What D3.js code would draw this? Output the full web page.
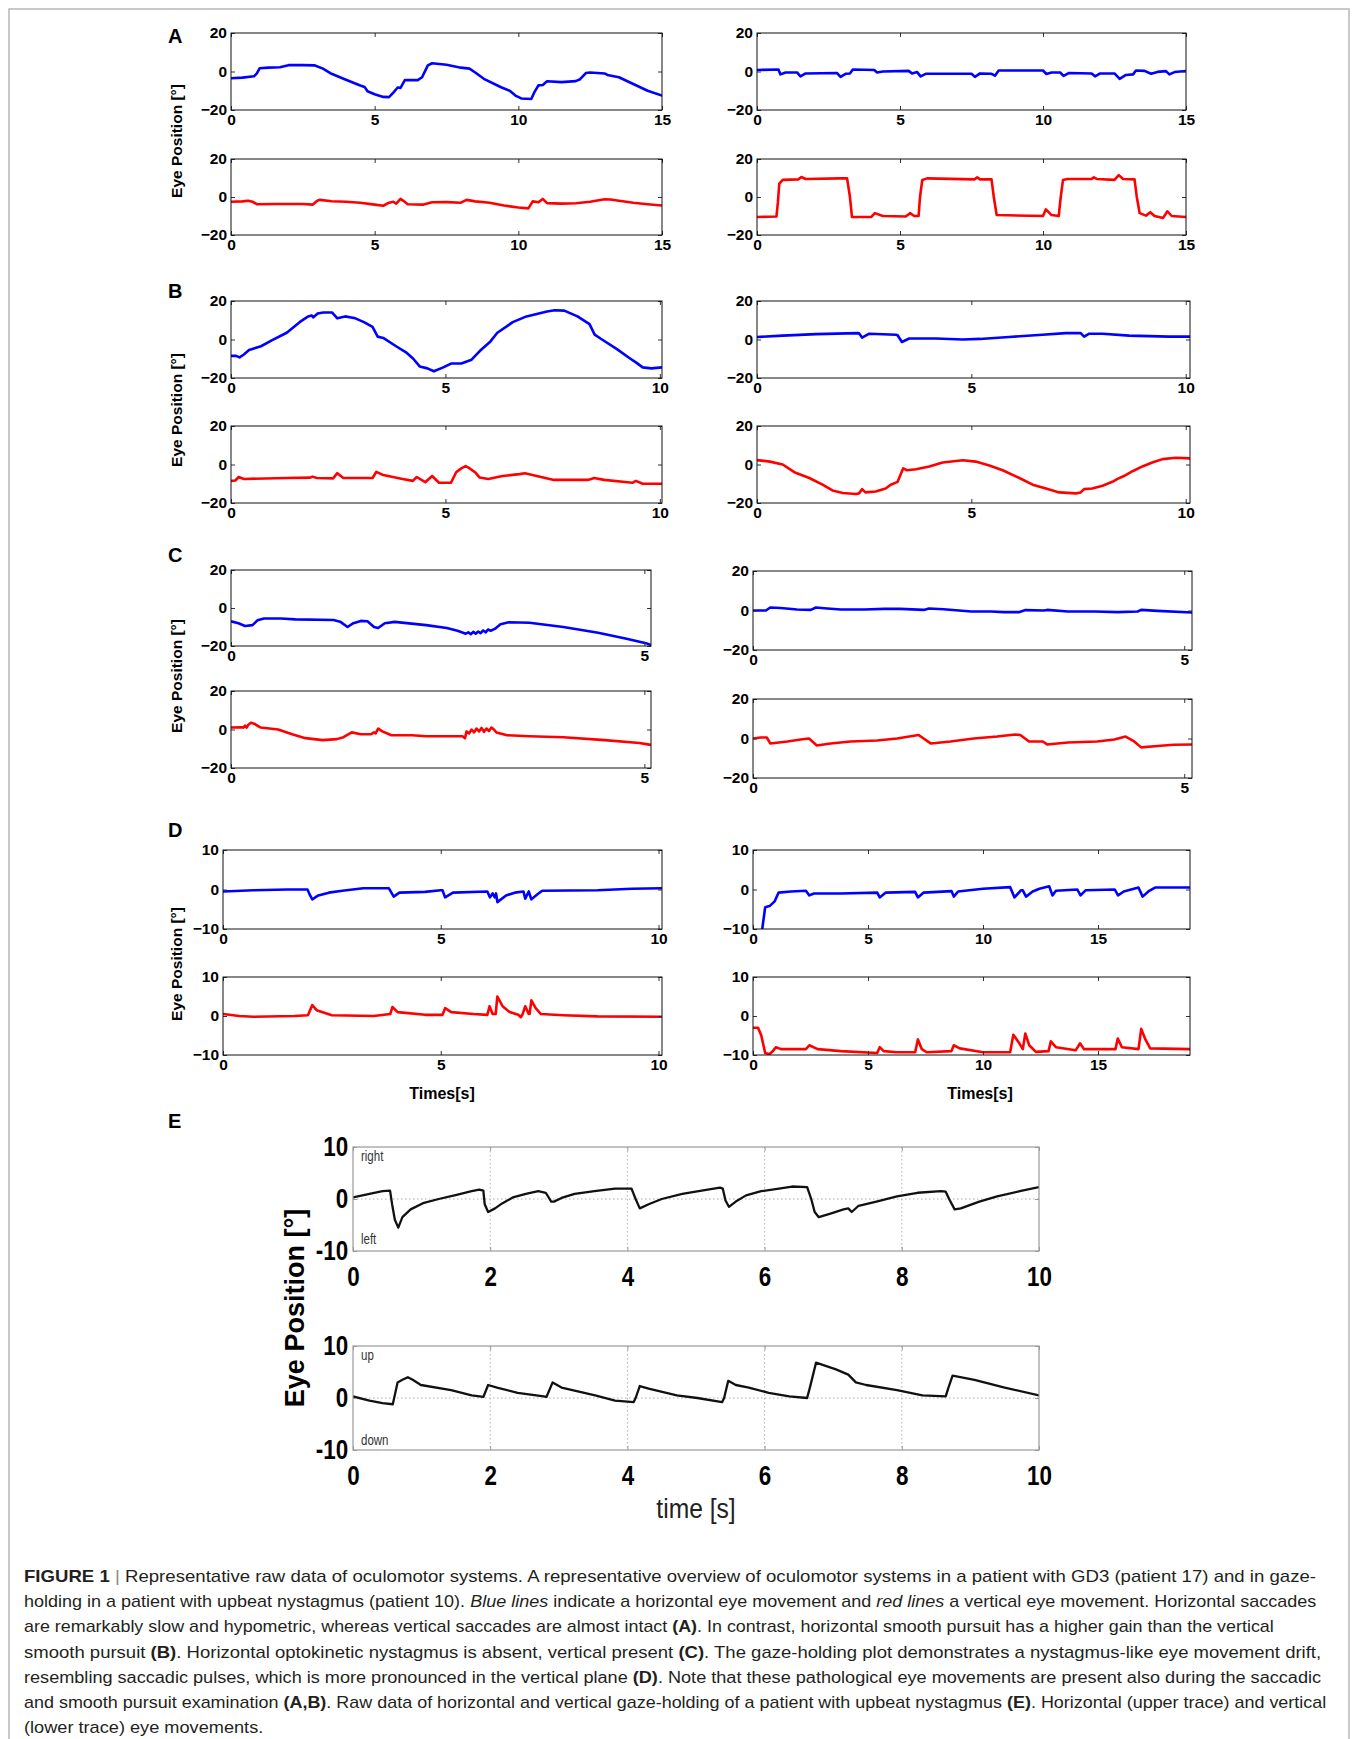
<!DOCTYPE html>
<html><head><meta charset="utf-8">
<script src="https://cdn.jsdelivr.net/npm/d3@7"></script>
<style>body{margin:0;background:#fff}svg{display:block}</style>
</head><body>
<svg id="fig" width="1358" height="1739"></svg>
<script>
// ---------------- DATA (time [s], eye position [deg]) ----------------
const A_left_h = [[0,-3.5],[0.4,-3.2],[0.8,-2.5],[0.9,-1],[1.0,1.7],[1.3,2],[1.7,2.2],[2.0,3.3],[2.5,3.3],[2.9,3.2],[3.2,1.5],[3.5,-1.2],[4.0,-4.3],[4.5,-7.3],[4.65,-8],[4.75,-10.3],[5.0,-11.8],[5.3,-13.2],[5.5,-13.3],[5.65,-11],[5.8,-8.3],[5.9,-8.5],[6.05,-4.5],[6.5,-4.5],[6.65,-3],[6.85,3.2],[7.0,4.3],[7.5,3.5],[8.0,2],[8.3,1.5],[8.5,-0.5],[8.8,-3.8],[9.4,-8.2],[9.7,-10],[9.9,-12.5],[10.1,-14],[10.45,-14.3],[10.55,-11],[10.7,-7.2],[10.85,-7],[11.0,-5.1],[11.5,-5.5],[12.0,-5],[12.15,-4],[12.35,-0.8],[12.5,-0.5],[13.0,-1],[13.1,-1.8],[13.5,-3],[14.0,-6.5],[14.5,-10],[15.0,-12.5]];
const A_left_v = [[0,-2.5],[0.4,-2.3],[0.6,-2],[0.75,-2.5],[0.9,-3.8],[1.5,-3.7],[2.5,-3.7],[2.85,-4],[3.0,-2],[3.1,-1.5],[3.5,-2.2],[4.0,-2.5],[4.5,-3],[5.0,-4],[5.3,-4.6],[5.5,-3],[5.65,-2.5],[5.75,-3.5],[5.9,-1],[6.0,-2],[6.15,-3.8],[6.7,-4],[7.0,-2.8],[7.5,-2.7],[8.0,-3],[8.2,-1.5],[8.5,-2.3],[9.0,-3],[9.5,-4.5],[10.0,-5.5],[10.35,-6],[10.5,-2.3],[10.7,-2.8],[10.85,-1],[11.0,-3.2],[11.5,-3.5],[12.0,-3.3],[12.5,-2.5],[13.0,-1.2],[13.2,-1.3],[13.5,-2],[14.0,-3],[14.5,-3.8],[15.0,-4.5]];
const A_right_h = [[0,0.8],[0.75,1],[0.82,-1.5],[1.0,-0.5],[1.4,-0.5],[1.52,-2.5],[1.7,-1],[2.8,-0.8],[2.92,-2.8],[3.1,-1.2],[3.25,-1],[3.35,1],[4.1,0.8],[4.2,-0.5],[4.4,0],[5.3,0.3],[5.42,-1],[5.6,-0.3],[5.72,-2.5],[5.9,-1.2],[7.5,-1.2],[7.62,-2.8],[7.8,-1],[8.2,-1.2],[8.32,-2.2],[8.45,0.5],[10.0,0.5],[10.12,-1.3],[10.3,-0.5],[10.6,-0.5],[10.72,-2.3],[10.9,-0.8],[11.7,-1],[11.82,-2.5],[12.0,-1],[12.5,-1],[12.68,-3.8],[12.9,-1.8],[13.15,-1.5],[13.25,0.5],[13.55,0.3],[13.78,-1.2],[14.0,-0.2],[14.3,0.2],[14.42,-1.5],[14.6,-0.3],[15.0,0.3]];
const A_right_v = [[0,-10.5],[0.68,-10.3],[0.73,-3],[0.78,7],[0.9,9],[1.45,9.3],[1.55,10.5],[1.7,9.5],[2.9,9.8],[3.15,9.8],[3.25,0],[3.32,-10.5],[4.0,-10.5],[4.12,-8.5],[4.4,-10],[5.2,-10.3],[5.35,-8.5],[5.5,-10],[5.65,-10],[5.7,0],[5.78,9],[5.95,9.8],[7.6,9.3],[7.7,10.3],[7.8,9.3],[8.2,9.3],[8.28,0],[8.38,-9.5],[10.0,-10],[10.1,-6.5],[10.3,-9.5],[10.55,-10],[10.62,0],[10.7,9],[10.85,9.5],[11.7,9.5],[11.78,10.3],[11.88,9.5],[12.5,9],[12.65,11.5],[12.8,9.5],[13.2,9.3],[13.28,0],[13.38,-8.5],[13.6,-9.8],[13.75,-8],[13.9,-10],[14.2,-11],[14.35,-7.5],[14.5,-10],[15.0,-10.5]];
const B_left_h = [[0,-8.5],[0.12,-8.5],[0.2,-9.3],[0.3,-7.8],[0.42,-5.5],[0.7,-3.5],[0.95,-0.5],[1.3,3.5],[1.6,9],[1.8,12],[1.88,12.5],[1.92,11.5],[2.02,13.5],[2.15,14],[2.36,14],[2.48,11],[2.66,12],[2.9,11],[3.1,9],[3.3,6.5],[3.42,1.5],[3.55,0.8],[3.85,-3.5],[4.1,-7],[4.25,-10],[4.4,-14],[4.58,-15],[4.73,-16.5],[4.95,-14.5],[5.13,-12.5],[5.37,-12.5],[5.61,-10.5],[5.8,-6],[6.05,-1],[6.21,3.5],[6.57,9],[6.89,12],[7.37,14.5],[7.55,15.2],[7.77,15],[8.08,12],[8.36,8],[8.48,2.5],[8.65,0],[9.0,-5],[9.28,-9.5],[9.45,-12],[9.6,-14.5],[9.8,-15],[10.05,-14.5]];
const B_left_v = [[0,-8.5],[0.1,-8.3],[0.18,-6.5],[0.3,-7.5],[1.3,-7],[1.85,-6.8],[1.9,-6.3],[2.0,-7],[2.38,-7.2],[2.48,-4.5],[2.62,-7],[3.3,-7],[3.39,-3.8],[3.55,-5.5],[4.0,-7.5],[4.24,-8.5],[4.33,-6.5],[4.53,-9.2],[4.69,-6],[4.85,-9.5],[5.13,-9.5],[5.25,-4],[5.37,-2],[5.47,-0.8],[5.53,-1.5],[5.69,-4],[5.8,-6.8],[6.0,-7.5],[6.33,-6],[6.73,-5],[6.85,-4.5],[7.13,-6],[7.53,-8],[8.32,-8],[8.47,-7],[8.7,-8],[9.36,-9.5],[9.44,-8.5],[9.6,-10],[10.05,-10]];
const B_right_h = [[0,1.3],[0.6,2],[1.38,2.8],[2.35,3.3],[2.38,3.2],[2.45,1],[2.62,3],[3.24,2.5],[3.28,2.2],[3.38,-1.3],[3.55,0.5],[4.17,0.5],[4.8,0],[5.2,0.3],[5.88,1.3],[6.66,2.5],[7.2,3.3],[7.55,3.3],[7.63,1.5],[7.75,3],[8.06,3],[8.68,2],[9.61,1.5],[10.1,1.5]];
const B_right_v = [[0,2.3],[0.3,1.5],[0.6,0],[0.87,-4],[1.22,-7],[1.53,-10.5],[1.76,-13.5],[2.0,-14.8],[2.31,-15.3],[2.38,-15],[2.45,-12.8],[2.53,-14.5],[2.77,-14],[3.0,-12.5],[3.12,-10.5],[3.28,-9],[3.41,-2],[3.5,-3],[3.71,-2.5],[4.02,-1],[4.33,1],[4.8,2.2],[5.1,1.5],[5.42,-0.5],[5.73,-3],[6.12,-7],[6.43,-10.5],[6.74,-12.5],[7.05,-14.5],[7.44,-15],[7.55,-14.5],[7.63,-12.8],[7.82,-12.5],[8.06,-11],[8.29,-9],[8.41,-7.5],[8.56,-6],[8.76,-3.5],[8.99,-1],[9.22,1],[9.46,2.8],[9.77,3.5],[10.1,3.2]];
const C_left_h = [[0,-7],[0.09,-8],[0.17,-9.5],[0.26,-9],[0.32,-6.5],[0.4,-5.5],[0.6,-5.5],[0.78,-6],[1.24,-6.3],[1.32,-7.2],[1.41,-10],[1.48,-8],[1.57,-6.8],[1.65,-7],[1.73,-10],[1.78,-10.5],[1.86,-8],[1.98,-7.3],[2.36,-9],[2.61,-10.5],[2.74,-12],[2.84,-13.5],[2.87,-12.8],[2.9,-13.8],[2.93,-12.6],[2.96,-13.5],[2.99,-12.4],[3.02,-13.2],[3.05,-11.8],[3.08,-12.8],[3.11,-11.3],[3.14,-12],[3.19,-11],[3.26,-8.5],[3.36,-7.5],[3.61,-7.8],[4.02,-10],[4.44,-13],[4.77,-16],[5.02,-18.5],[5.08,-19.5]];
const C_left_v = [[0,1],[0.13,1.2],[0.15,1],[0.17,2],[0.19,1],[0.21,2.5],[0.24,3.5],[0.28,3],[0.36,1],[0.57,0],[0.74,-2.5],[0.9,-4.5],[1.11,-5.5],[1.28,-5],[1.36,-4],[1.46,-1.5],[1.57,-2.5],[1.69,-2.5],[1.73,-1.5],[1.75,-2],[1.78,0.5],[1.83,-1],[1.94,-3],[2.19,-3],[2.36,-3.5],[2.8,-3.5],[2.83,-4.5],[2.85,-1],[2.88,-2],[2.91,0],[2.94,-1.5],[2.97,0.5],[3.0,-1],[3.03,0.8],[3.06,-1.2],[3.09,0.5],[3.12,-0.8],[3.15,1],[3.18,0],[3.21,-1.5],[3.34,-3],[3.61,-3.5],[4.02,-4],[4.52,-5.5],[4.94,-7],[5.08,-8]];
const C_right_h = [[0,0],[0.15,0],[0.2,1.5],[0.32,1.3],[0.51,0.5],[0.67,0.3],[0.73,1.5],[0.86,1],[1.02,0.5],[1.29,0.5],[1.52,0.8],[1.71,0.8],[1.98,0.3],[2.04,1],[2.21,0.6],[2.53,-0.5],[2.76,-0.5],[2.91,-0.8],[3.09,-0.8],[3.16,0.2],[3.37,0],[3.41,0.3],[3.65,-0.5],[3.96,-0.5],[4.23,-0.8],[4.46,-0.5],[4.5,0.3],[4.69,-0.2],[5.09,-1]];
const C_right_v = [[0,0],[0.09,0.5],[0.16,0.5],[0.2,-2.5],[0.4,-1.5],[0.55,-0.5],[0.65,0],[0.74,-3.5],[0.9,-2.5],[1.13,-1.5],[1.44,-1],[1.67,0],[1.92,1.8],[2.06,-2.5],[2.29,-1.5],[2.56,0],[2.83,1],[3.04,2],[3.1,1.8],[3.2,-1.5],[3.36,-1.5],[3.41,-3],[3.65,-2],[3.99,-1.5],[4.19,-0.5],[4.32,1],[4.42,-1.5],[4.5,-4.5],[4.69,-3.8],[4.88,-3.2],[5.09,-3]];
const D_left_h = [[0,-0.5],[0.7,-0.2],[1.48,0],[1.94,0],[2.0,-1.5],[2.05,-2.5],[2.19,-1.5],[2.43,-0.8],[2.74,-0.3],[3.22,0.3],[3.81,0.3],[3.92,-1.8],[4.05,-0.8],[4.64,-0.6],[5.0,-0.2],[5.04,-0.2],[5.1,-2],[5.28,-0.8],[6.07,-0.5],[6.13,-2],[6.19,-1],[6.24,-2],[6.27,-1],[6.3,-3.2],[6.5,-1.5],[6.7,-0.8],[6.9,-0.5],[6.94,-2.3],[7.02,-0.5],[7.08,-2.5],[7.22,-1.2],[7.33,-0.3],[8.6,-0.2],[9.39,0.2],[10.08,0.3]];
const D_left_v = [[0,0.5],[0.37,0],[0.69,-0.2],[1.64,0],[1.95,0.2],[2.05,2.8],[2.15,1.5],[2.5,0.2],[3.46,0],[3.84,0.5],[3.89,2.3],[4.01,1],[4.64,0.3],[5.04,0.3],[5.1,2],[5.24,1],[5.75,0.5],[6.07,0.3],[6.12,2.5],[6.19,0.5],[6.26,0.5],[6.3,5],[6.42,2.5],[6.58,1],[6.78,0.3],[6.84,-0.3],[6.88,0.5],[6.94,2.5],[7.02,0.5],[7.04,0.5],[7.08,4],[7.18,2],[7.3,0.5],[7.81,0.2],[8.6,-0.1],[10.08,-0.2]];
const D_right_h = [[0.39,-10.5],[0.53,-4.5],[0.72,-4.2],[0.94,-3],[1.11,-0.8],[1.65,-0.5],[2.3,-0.3],[2.45,-1.5],[2.65,-1],[3.81,-1],[5.4,-0.8],[5.51,-2],[5.76,-0.8],[7.05,-0.6],[7.17,-2],[7.41,-0.8],[8.63,-0.4],[8.73,-1.8],[8.92,-0.5],[10.0,0.2],[11.18,0.6],[11.37,-2],[11.65,-0.2],[11.73,-0.2],[11.87,-1.8],[12.16,-0.5],[12.45,0.2],[12.88,0.8],[13.02,-1.5],[13.17,-0.3],[14.1,0],[14.24,-1.5],[14.46,-0.2],[15.73,0],[15.87,-1.5],[16.12,-0.5],[16.76,0.5],[16.94,-1.8],[17.19,-0.5],[17.48,0.5],[19,0.5]];
const D_right_v = [[0,-3],[0.22,-3],[0.36,-5],[0.53,-9.5],[0.72,-9.8],[0.86,-9],[1.0,-8],[1.22,-8.5],[2.3,-8.5],[2.45,-7.5],[2.81,-8.5],[3.81,-9],[5.4,-9.5],[5.51,-8],[5.68,-9],[6.26,-9.3],[7.05,-9.3],[7.17,-6],[7.34,-8.5],[7.55,-9.3],[8.63,-9],[8.73,-7.5],[8.99,-8.3],[10.0,-9.3],[11.18,-9.3],[11.32,-4.8],[11.58,-7],[11.73,-8.5],[11.84,-4.5],[12.01,-7.5],[12.3,-9.2],[12.85,-9],[12.95,-6.5],[13.17,-8],[14.03,-8.8],[14.22,-7],[14.39,-8.5],[15.76,-8.5],[15.86,-5.8],[16.04,-8],[16.76,-8.5],[16.88,-3.3],[17.06,-6],[17.27,-8.3],[19,-8.5]];
const E_horizontal = [[0,0.3],[0.24,1],[0.43,1.5],[0.54,1.6],[0.57,-1],[0.61,-4],[0.66,-5.5],[0.72,-3.5],[0.84,-2],[1.02,-0.8],[1.25,0],[1.51,0.8],[1.73,1.5],[1.84,1.8],[1.9,1.6],[1.92,-1],[1.97,-2.5],[2.07,-1.8],[2.18,-0.8],[2.33,0.3],[2.52,1],[2.7,1.5],[2.81,1.2],[2.89,-0.5],[2.93,-0.5],[3.04,0.2],[3.23,1],[3.52,1.5],[3.82,2],[4.06,2],[4.12,0],[4.18,-1.8],[4.31,-1],[4.5,0],[4.8,1],[5.17,1.8],[5.35,2.2],[5.39,2],[5.43,-0.3],[5.48,-1.5],[5.58,-0.5],[5.73,0.7],[5.95,1.5],[6.21,2],[6.4,2.4],[6.62,2.3],[6.68,0],[6.73,-2.5],[6.79,-3.5],[6.96,-2.8],[7.15,-2],[7.22,-1.8],[7.27,-2.5],[7.37,-1.3],[7.63,-0.5],[7.93,0.5],[8.23,1.2],[8.57,1.5],[8.64,1.4],[8.69,0],[8.77,-2],[8.86,-1.8],[9.13,-0.5],[9.39,0.5],[9.72,1.5],[10,2.3]];
const E_vertical = [[0,0.3],[0.24,-0.5],[0.43,-1],[0.58,-1.2],[0.6,0],[0.65,3],[0.72,3.5],[0.8,4],[0.87,3.5],[0.99,2.5],[1.43,1.5],[1.73,0.5],[1.9,0.2],[1.97,2.5],[2.1,2],[2.4,1],[2.78,0.3],[2.82,0.2],[2.91,3],[3.04,2],[3.53,0.5],[3.82,-0.5],[4.09,-0.8],[4.12,0],[4.18,2.3],[4.31,1.8],[4.72,0.5],[5.02,0],[5.38,-0.8],[5.41,0],[5.47,3.3],[5.58,2.5],[5.77,2],[6.06,1],[6.36,0.3],[6.62,0],[6.66,2],[6.75,6.8],[7.04,5.5],[7.22,4.5],[7.33,3],[7.48,2.5],[7.93,1.5],[8.3,0.5],[8.64,0.3],[8.68,2],[8.74,4.3],[9.06,3.5],[9.5,2],[10,0.5]];

const ticks15 = [0,5,10,15], ticks10 = [0,5,10], ticks5 = [0,5], ticks19 = [0,5,10,15];
const yTicks20 = [-20,0,20], yTicks10 = [-10,0,10];
const eTicksX = [0,2,4,6,8,10], eTicksY = [-10,0,10], eGridX = [2,4,6,8];
const panelLetters = ["A","B","C","D","E"];
const eLabelsTop = ["right","left"], eLabelsBottom = ["up","down"];

// ---------------- RENDER ----------------
const FONT = "'Liberation Sans', Arial, Helvetica, sans-serif";
const BLUE = "#0000ff", RED = "#ff0000";
const svg = d3.select("#fig");
const defs = svg.append("defs");
let cid = 0;

// outer frame
svg.append("rect").attr("x",9).attr("y",9).attr("width",1340).attr("height",1760)
  .attr("fill","none").attr("stroke","#b8b8b8").attr("stroke-width",1.5);

function plot(L, series, color, xTicks, yDom, yTicks, st) {
  const x = d3.scaleLinear().domain([0, L.xmax]).range([L.x0, L.x1]);
  const y = d3.scaleLinear().domain(yDom).range([L.y1, L.y0]);
  const id = "clip" + (cid++);
  defs.append("clipPath").attr("id", id).append("rect")
    .attr("x", L.x0).attr("y", L.y0).attr("width", L.x1 - L.x0).attr("height", L.y1 - L.y0);
  const g = svg.append("g");
  if (st.grid) {
    g.selectAll("line.gx").data(st.grid).join("line")
      .attr("x1", d => x(d)).attr("x2", d => x(d)).attr("y1", L.y0).attr("y2", L.y1)
      .attr("stroke", "#b0b0b0").attr("stroke-width", 1).attr("stroke-dasharray", "1.5,2.5");
    g.append("line").attr("x1", L.x0).attr("x2", L.x1).attr("y1", y(0)).attr("y2", y(0))
      .attr("stroke", "#b0b0b0").attr("stroke-width", 1).attr("stroke-dasharray", "1.5,2.5");
  }
  g.append("path").datum(series).attr("clip-path", `url(#${id})`)
    .attr("d", d3.line().x(d => x(d[0])).y(d => y(d[1])))
    .attr("fill", "none").attr("stroke", color).attr("stroke-width", st.lw)
    .attr("stroke-linejoin", "round").attr("stroke-linecap", "round");

  const fmt = st.fmt;
  const styleText = sel => {
    sel.select(".domain").remove();
    sel.selectAll("line").attr("stroke", st.tickColor);
    sel.selectAll("text").attr("font-family", st.font).attr("font-size", st.fs)
      .attr("font-weight", "bold").attr("fill", "#000");
    if (st.sx !== 1) sel.selectAll("text").attr("transform", `scale(${st.sx},1)`);
  };
  g.append("g").attr("transform", `translate(0,${L.y1})`)
    .call(d3.axisBottom(x).tickValues(xTicks).tickSizeInner(-st.tl).tickSizeOuter(0).tickPadding(st.padX).tickFormat(fmt))
    .call(styleText);
  g.append("g").attr("transform", `translate(0,${L.y0})`)
    .call(d3.axisTop(x).tickValues(xTicks).tickSizeInner(-st.tl).tickSizeOuter(0).tickFormat(""))
    .call(styleText);
  g.append("g").attr("transform", `translate(${L.x0},0)`)
    .call(d3.axisLeft(y).tickValues(yTicks).tickSizeInner(-st.tl).tickSizeOuter(0).tickPadding(st.padY).tickFormat(fmt))
    .call(styleText);
  g.append("g").attr("transform", `translate(${L.x1},0)`)
    .call(d3.axisRight(y).tickValues(yTicks).tickSizeInner(-st.tl).tickSizeOuter(0).tickFormat(""))
    .call(styleText);
  g.append("rect").attr("x", L.x0).attr("y", L.y0).attr("width", L.x1 - L.x0).attr("height", L.y1 - L.y0)
    .attr("fill", "none").attr("stroke", st.boxColor).attr("stroke-width", st.boxW);
  return {x, y};
}

const stAD = {lw: 2.6, tl: 4, padX: 4, padY: 4, fs: 15.5, font: FONT, sx: 1,
  fmt: d3.format("d"), tickColor: "#333", boxColor: "#111", boxW: 1};

const rows = [
  {letter: "A", ly: 36, yDom: [-20,20], yT: yTicks20,
   top: [33,110], bot: [159,235],
   L: {x0:231, x1:662, xmax:15, xt: ticks15, h: A_left_h, v: A_left_v},
   R: {x0:757, x1:1186, xmax:15, xt: ticks15, h: A_right_h, v: A_right_v}, labY: 141},
  {letter: "B", ly: 291, yDom: [-20,20], yT: yTicks20,
   top: [301,378], bot: [426,503],
   L: {x0:231, x1:662, xmax:10.05, xt: ticks10, h: B_left_h, v: B_left_v},
   R: {x0:757, x1:1190, xmax:10.1, xt: ticks10, h: B_right_h, v: B_right_v}, labY: 410},
  {letter: "C", ly: 555, yDom: [-20,20], yT: yTicks20,
   top: [570,646], bot: [691,768], topR: [571,650], botR: [699,778],
   L: {x0:231, x1:651, xmax:5.08, xt: ticks5, h: C_left_h, v: C_left_v},
   R: {x0:753, x1:1192, xmax:5.09, xt: ticks5, h: C_right_h, v: C_right_v}, labY: 676},
  {letter: "D", ly: 830, yDom: [-10,10], yT: yTicks10,
   top: [850,929], bot: [977,1055],
   L: {x0:223, x1:662, xmax:10.08, xt: ticks10, h: D_left_h, v: D_left_v},
   R: {x0:753, x1:1190, xmax:19, xt: ticks19, h: D_right_h, v: D_right_v}, labY: 964}
];

rows.forEach(r => {
  ["L","R"].forEach(side => {
    const s = r[side];
    const tp = (side === "R" && r.topR) ? r.topR : r.top;
    const bt = (side === "R" && r.botR) ? r.botR : r.bot;
    plot({x0:s.x0, x1:s.x1, xmax:s.xmax, y0:tp[0], y1:tp[1]}, s.h, BLUE, s.xt, r.yDom, r.yT, stAD);
    plot({x0:s.x0, x1:s.x1, xmax:s.xmax, y0:bt[0], y1:bt[1]}, s.v, RED, s.xt, r.yDom, r.yT, stAD);
  });
  svg.append("text").attr("x", 168).attr("y", r.ly).attr("dy", "0.36em")
    .attr("font-family", FONT).attr("font-weight", "bold").attr("font-size", 20).text(r.letter);
  svg.append("text").attr("transform", `translate(182,${r.labY}) rotate(-90)`)
    .attr("text-anchor", "middle").attr("font-family", FONT).attr("font-weight", "bold")
    .attr("font-size", 15.5).text("Eye Position [°]");
});

// Times[s] labels
[[442,1093],[980,1093]].forEach(p => {
  svg.append("text").attr("x", p[0]).attr("y", p[1]).attr("dy", "0.36em").attr("text-anchor", "middle")
    .attr("font-family", FONT).attr("font-weight", "bold").attr("font-size", 16).text("Times[s]");
});

// Panel E
svg.append("text").attr("x", 168).attr("y", 1121).attr("dy", "0.36em")
  .attr("font-family", FONT).attr("font-weight", "bold").attr("font-size", 20).text("E");

const stE = {lw: 2.3, tl: 4, padX: 15, padY: 6, fs: 28, font: FONT, sx: 0.8,
  fmt: d => String(d), tickColor: "#999", boxColor: "#9a9a9a", boxW: 1.2, grid: eGridX};
const eTop = {x0:353, x1:1039, xmax:10, y0:1147, y1:1251};
const eBot = {x0:353, x1:1039, xmax:10, y0:1346, y1:1450};
plot(eTop, E_horizontal, "#111", eTicksX, [-10,10], eTicksY, stE);
plot(eBot, E_vertical, "#111", eTicksX, [-10,10], eTicksY, stE);

function smallLabel(x, y, t) {
  svg.append("text").attr("transform", `translate(${x},${y}) scale(0.82,1)`).attr("dy", "0.36em")
    .attr("font-family", FONT).attr("font-size", 14).attr("fill", "#333").text(t);
}
smallLabel(361, 1156, eLabelsTop[0]);
smallLabel(361, 1239, eLabelsTop[1]);
smallLabel(361, 1355, eLabelsBottom[0]);
smallLabel(361, 1440, eLabelsBottom[1]);

svg.append("text").attr("transform", "translate(294,1308) rotate(-90)").attr("text-anchor", "middle")
  .attr("dy", "0.36em").attr("font-family", FONT).attr("font-weight", "bold").attr("font-size", 27)
  .text("Eye Position [°]");
svg.append("text").attr("transform", "translate(696,1508) scale(0.88,1)").attr("text-anchor", "middle")
  .attr("dy", "0.36em").attr("font-family", FONT).attr("font-size", 28).attr("fill", "#222").text("time [s]");

// Caption
const caption = [
  [["FIGURE 1","b"],[" | ","bar"],["Representative raw data of oculomotor systems. A representative overview of oculomotor systems in a patient with GD3 (patient 17) and in gaze-",""]],
  [["holding in a patient with upbeat nystagmus (patient 10). ",""],["Blue lines","i"],[" indicate a horizontal eye movement and ",""],["red lines","i"],[" a vertical eye movement. Horizontal saccades",""]],
  [["are remarkably slow and hypometric, whereas vertical saccades are almost intact ",""],["(A)","b"],[". In contrast, horizontal smooth pursuit has a higher gain than the vertical",""]],
  [["smooth pursuit ",""],["(B)","b"],[". Horizontal optokinetic nystagmus is absent, vertical present ",""],["(C)","b"],[". The gaze-holding plot demonstrates a nystagmus-like eye movement drift,",""]],
  [["resembling saccadic pulses, which is more pronounced in the vertical plane ",""],["(D)","b"],[". Note that these pathological eye movements are present also during the saccadic",""]],
  [["and smooth pursuit examination ",""],["(A,B)","b"],[". Raw data of horizontal and vertical gaze-holding of a patient with upbeat nystagmus ",""],["(E)","b"],[". Horizontal (upper trace) and vertical",""]],
  [["(lower trace) eye movements.",""]]
];
const targetW = [1293,1294,1250,1298,1298,1303,null];
const scales = [];
const capNodes = caption.map((line, i) => {
  const t = svg.append("text").attr("font-family", FONT).attr("font-size", 16).attr("fill", "#231f20")
    .attr("transform", `translate(24,${1582 + i*25.2})`);
  line.forEach(([s, k]) => {
    const ts = t.append("tspan").text(s);
    if (k === "b") ts.attr("font-weight", "bold");
    if (k === "i") ts.attr("font-style", "italic");
    if (k === "bar") ts.attr("fill", "#888");
  });
  t.style("white-space", "pre");
  return t;
});
capNodes.forEach((t, i) => {
  const w = t.node().getComputedTextLength();
  if (targetW[i]) scales.push(targetW[i] / w);
});
const meanS = d3.mean(scales);
capNodes.forEach((t, i) => {
  const w = t.node().getComputedTextLength();
  const s = targetW[i] ? targetW[i] / w : meanS;
  t.attr("transform", `translate(24,${1582 + i*25.2}) scale(${s},1)`);
});
</script>
</body></html>
